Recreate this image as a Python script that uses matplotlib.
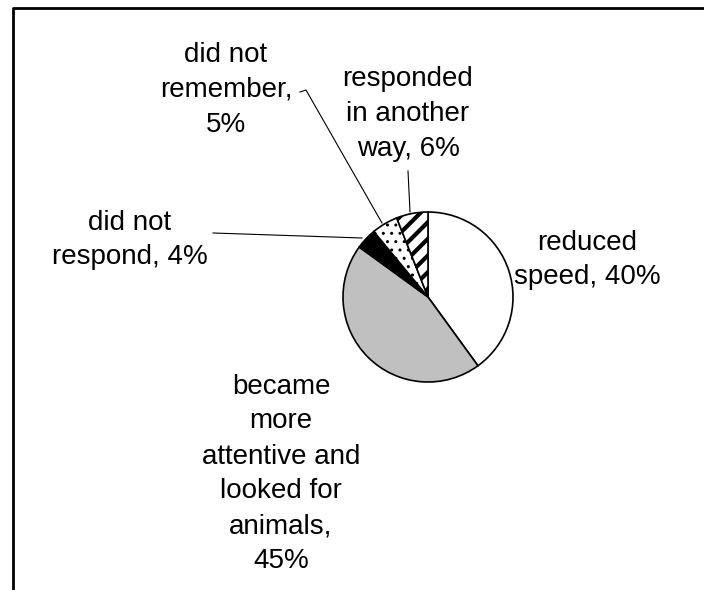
import matplotlib.pyplot as plt
from matplotlib.lines import Line2D

plt.rcParams['font.family'] = ['Liberation Sans', 'DejaVu Sans']

# survey answers, clockwise from 12 o'clock
labels = ['reduced\nspeed, 40%',
          'became\nmore\nattentive and\nlooked for\nanimals,\n45%',
          'did not\nrespond, 4%',
          'did not\nremember,\n5%',
          'responded\nin another\nway, 6%']
shares = [40, 45, 4, 5, 6]
fills = ['white', '#c0c0c0', 'black', 'white', 'white']
hatches = [None, None, None, '..', '//']

W, H = 704, 590
fig = plt.figure(figsize=(W / 100, H / 100), dpi=100)
ax = fig.add_axes([0, 0, 1, 1])

cx, cy, r = 428, H - 297, 85
wedges, _ = ax.pie(shares, colors=fills, startangle=90, counterclock=False,
                   center=(cx, cy), radius=r, frame=True,
                   wedgeprops=dict(edgecolor='black', linewidth=1.2))
ax.set_xlim(0, W)
ax.set_ylim(0, H)
ax.set_aspect('equal')
ax.axis('off')
for w, h in zip(wedges, hatches):
    if h:
        w.set_hatch(h)
        if h == '//' and hasattr(w, 'set_hatch_linewidth'):
            w.set_hatch_linewidth(3.0)

# label placement (pixels from top-left) and leader lines
label_pos = [(587, 260), (281, 474), (130, 240), (226, 90), (408, 114)]
leaders = {
    2: [(213, 233), (362, 238)],
    3: [(300, 92), (306, 90), (382, 223)],
    4: [(408, 171), (410, 212)],
}
for i, (txt, (x, y)) in enumerate(zip(labels, label_pos)):
    ax.text(x, H - y, txt, ha='center', va='center', multialignment='center',
            fontsize=20, linespacing=1.45, color='black')
    if i in leaders:
        pts = leaders[i]
        ax.plot([p[0] for p in pts], [H - p[1] for p in pts],
                color='black', linewidth=0.8)

# outer border (left and top edges)
fig.add_artist(Line2D([13 / W, 13 / W, 1.0], [0.0, 1 - 8 / H, 1 - 8 / H],
                      color='black', linewidth=2, transform=fig.transFigure))

fig.savefig('out.png', dpi=100)
